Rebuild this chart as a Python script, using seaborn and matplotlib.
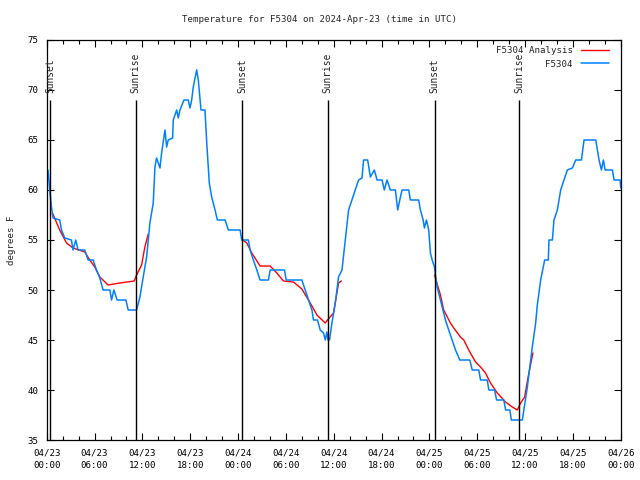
import numpy as np
import pandas as pd
import matplotlib
matplotlib.use("Agg")
import matplotlib.pyplot as plt
from matplotlib.lines import Line2D
import seaborn as sns

# hours since 2024-04-23 00:00 UTC
obs_hours = [0.16, 0.38, 0.59, 0.79, 1.63, 1.85, 2.26, 3.10, 3.30, 3.64, 3.93, 4.77, 5.19, 5.82,
             6.24, 6.66, 7.07, 7.92, 8.13, 8.42, 8.83, 9.93, 10.22, 11.27, 11.69, 12.10, 12.53,
             12.94, 13.36, 13.57, 13.78, 14.20, 14.41, 14.83, 15.04, 15.24, 15.79, 15.87, 16.30,
             16.50, 16.71, 17.21, 17.75, 17.97, 18.18, 18.38, 18.81, 19.01, 19.35, 19.85, 20.07,
             20.39, 20.69, 21.11, 21.40, 22.37, 22.78, 24.25, 24.46, 25.29, 25.51, 25.92, 26.35,
             26.76, 27.81, 28.02, 29.82, 30.03, 32.00, 32.42, 32.83, 33.26, 33.46, 33.96, 34.30,
             34.72, 34.93, 35.14, 35.27, 35.47, 35.77, 36.19, 36.60, 37.03, 37.44, 37.86, 38.28,
             38.70, 39.11, 39.54, 39.74, 40.25, 40.59, 41.09, 41.43, 42.06, 42.34, 42.68, 43.10,
             43.73, 44.02, 44.36, 44.57, 45.40, 45.61, 46.65, 46.87, 47.21, 47.37, 47.62, 47.91,
             48.12, 48.34, 48.63, 48.75, 48.97, 49.38, 50.01, 50.42, 50.85, 51.27, 51.81, 53.06,
             53.37, 54.19, 54.41, 55.25, 55.45, 56.17, 56.42, 57.33, 57.55, 58.09, 58.27, 59.65,
             60.28, 60.90, 61.32, 61.53, 61.95, 62.45, 62.91, 62.99, 63.42, 63.62, 64.04, 64.46,
             64.87, 65.30, 65.93, 66.34, 67.06, 67.39, 67.81, 68.86, 69.27, 69.57, 69.82, 70.03,
             70.95, 71.16, 71.91, 72.0]
obs_temp = [62, 60, 58.3, 57.2, 57, 56, 55.2, 55, 54, 55, 54, 54, 53, 53,
            52, 51.2, 50, 50, 49, 50, 49, 49, 48, 48, 49.3, 51.3, 53.3,
            56.7, 58.7, 62.3, 63.2, 62.2, 63.7, 66, 64.3, 65, 65.2, 67, 68,
            67.2, 68, 69, 69, 68.2, 69, 70.3, 72, 71, 68, 68, 64.7,
            60.7, 59.3, 58, 57, 57, 56, 56, 55, 55, 54, 53, 52,
            51, 51, 52, 52, 51, 51, 50, 49, 48, 47, 47, 46,
            45.7, 45, 45.8, 45, 45, 46.7, 48.7, 51.3, 52, 55, 58, 59,
            60, 61, 61.2, 63, 63, 61.3, 62, 61, 61, 60, 61, 60,
            60, 58, 59.3, 60, 60, 59, 59, 58, 57, 56.2, 57, 56,
            53.7, 53, 52.3, 51.5, 50.3, 49, 47, 46, 45, 44, 43, 43,
            42, 42, 41, 41, 40, 40, 39, 39, 38, 38, 37, 37,
            40.3, 44.3, 46.7, 48.5, 51, 53, 53, 55, 55, 57, 58, 60,
            61, 62, 62.2, 63, 63, 65, 65, 65, 63, 62, 63, 62,
            62, 61, 61, 60.2]

# analysis line, one piece per night
ana_segment = [1] * 15 + [2] * 17 + [3] * 20
ana_hours = [0.72, 1.63, 2.48, 3.30, 4.77, 5.40, 6.03, 6.66, 7.70, 9.17, 10.97, 11.27, 11.90, 12.31, 12.73,
             24.46, 25.09, 25.72, 26.76, 28.02, 28.86, 29.69, 30.95, 32.00, 33.05, 33.89, 34.93, 35.22,
             35.97, 36.31, 36.60, 36.94,
             48.63, 49.38, 49.79, 50.63, 51.05, 51.89, 52.31, 52.93, 53.78, 54.41, 55.03, 55.66, 56.51,
             57.55, 58.39, 59.02, 59.43, 59.94, 60.35, 60.98]
ana_temp = [57.7, 56, 54.7, 54.2, 53.8, 53, 52.3, 51.3, 50.5, 50.7, 50.9, 51.5, 52.5, 54.3, 55.6,
            55.1, 54.7, 53.7, 52.4, 52.4, 51.7, 50.9, 50.8, 50.1, 48.7, 47.5, 46.7, 47,
            47.7, 49.3, 50.7, 50.9,
            51.5, 49.5, 48, 46.7, 46.2, 45.3, 45, 44, 42.8, 42.3, 41.7, 40.7, 39.7,
            38.8, 38.3, 38, 38.7, 39.3, 41.2, 43.7]

sun_labels = ["Sunset", "Sunrise", "Sunset", "Sunrise", "Sunset", "Sunrise"]
sun_hours = [0.46, 11.14, 24.54, 35.22, 48.67, 59.22]

tick_days = ["04/23", "04/23", "04/23", "04/23", "04/24", "04/24", "04/24",
             "04/24", "04/25", "04/25", "04/25", "04/25", "04/26"]
tick_times = ["00:00", "06:00", "12:00", "18:00"] * 3 + ["00:00"]

RED = "#ff0000"
BLUE = "#0080ff"
FS = 6.6

sns.set_theme(style="ticks")
plt.rcParams["font.family"] = ["DejaVu Sans Mono"]
plt.rcParams["font.size"] = FS

obs = pd.DataFrame({"hours": obs_hours, "temp": obs_temp})
ana = pd.DataFrame({"hours": ana_hours, "temp": ana_temp, "seg": ana_segment})

fig = plt.figure(figsize=(6.4, 4.8), dpi=100)
ax = fig.add_axes([0.073, 0.0833, 0.897, 0.8334])

sns.lineplot(data=ana, x="hours", y="temp", units="seg", estimator=None, sort=False,
             color=RED, linewidth=1, ax=ax, legend=False)
sns.lineplot(data=obs, x="hours", y="temp", estimator=None, sort=False,
             color=BLUE, linewidth=1.1, ax=ax, legend=False)

ax.vlines(sun_hours, 35, 69, color="black", linewidth=1)
for h, lab in zip(sun_hours, sun_labels):
    ax.text(h, 69.7, lab, rotation=90, ha="center", va="bottom", fontsize=FS + 0.3)

ax.set_xlim(0, 72)
ax.set_ylim(35, 75)
ax.set_xticks(range(0, 73, 6))
ax.set_xticklabels([f"{d}\n{t}" for d, t in zip(tick_days, tick_times)])
for lab in ax.get_xticklabels():
    lab.set_linespacing(1.55)
ax.set_xticks(range(0, 73, 2), minor=True)
ax.set_yticks(range(35, 76, 5))
ax.tick_params(axis="both", which="both", direction="in", top=True, right=True,
               labelsize=FS, colors="black", pad=6)
ax.tick_params(axis="both", which="major", length=5, width=0.8)
ax.tick_params(axis="x", which="minor", length=3, width=0.8)
for s in ax.spines.values():
    s.set_color("black")
    s.set_linewidth(0.9)

ax.set_xlabel("")
ax.set_ylabel("degrees F", fontsize=FS, labelpad=8)
fig.text(0.5, 1 - 20 / 480, "Temperature for F5304 on 2024-Apr-23 (time in UTC)",
         ha="center", va="center", fontsize=FS)

handles = [Line2D([], [], color=RED, linewidth=1), Line2D([], [], color=BLUE, linewidth=1.1)]
ax.legend(handles, ["F5304 Analysis", "F5304"], loc="upper right", frameon=False,
          markerfirst=False, handlelength=3.0, handletextpad=0.9, labelspacing=0.45,
          borderaxespad=0.3, bbox_to_anchor=(0.99, 1.0), fontsize=FS)

fig.savefig("out.png", dpi=100)
